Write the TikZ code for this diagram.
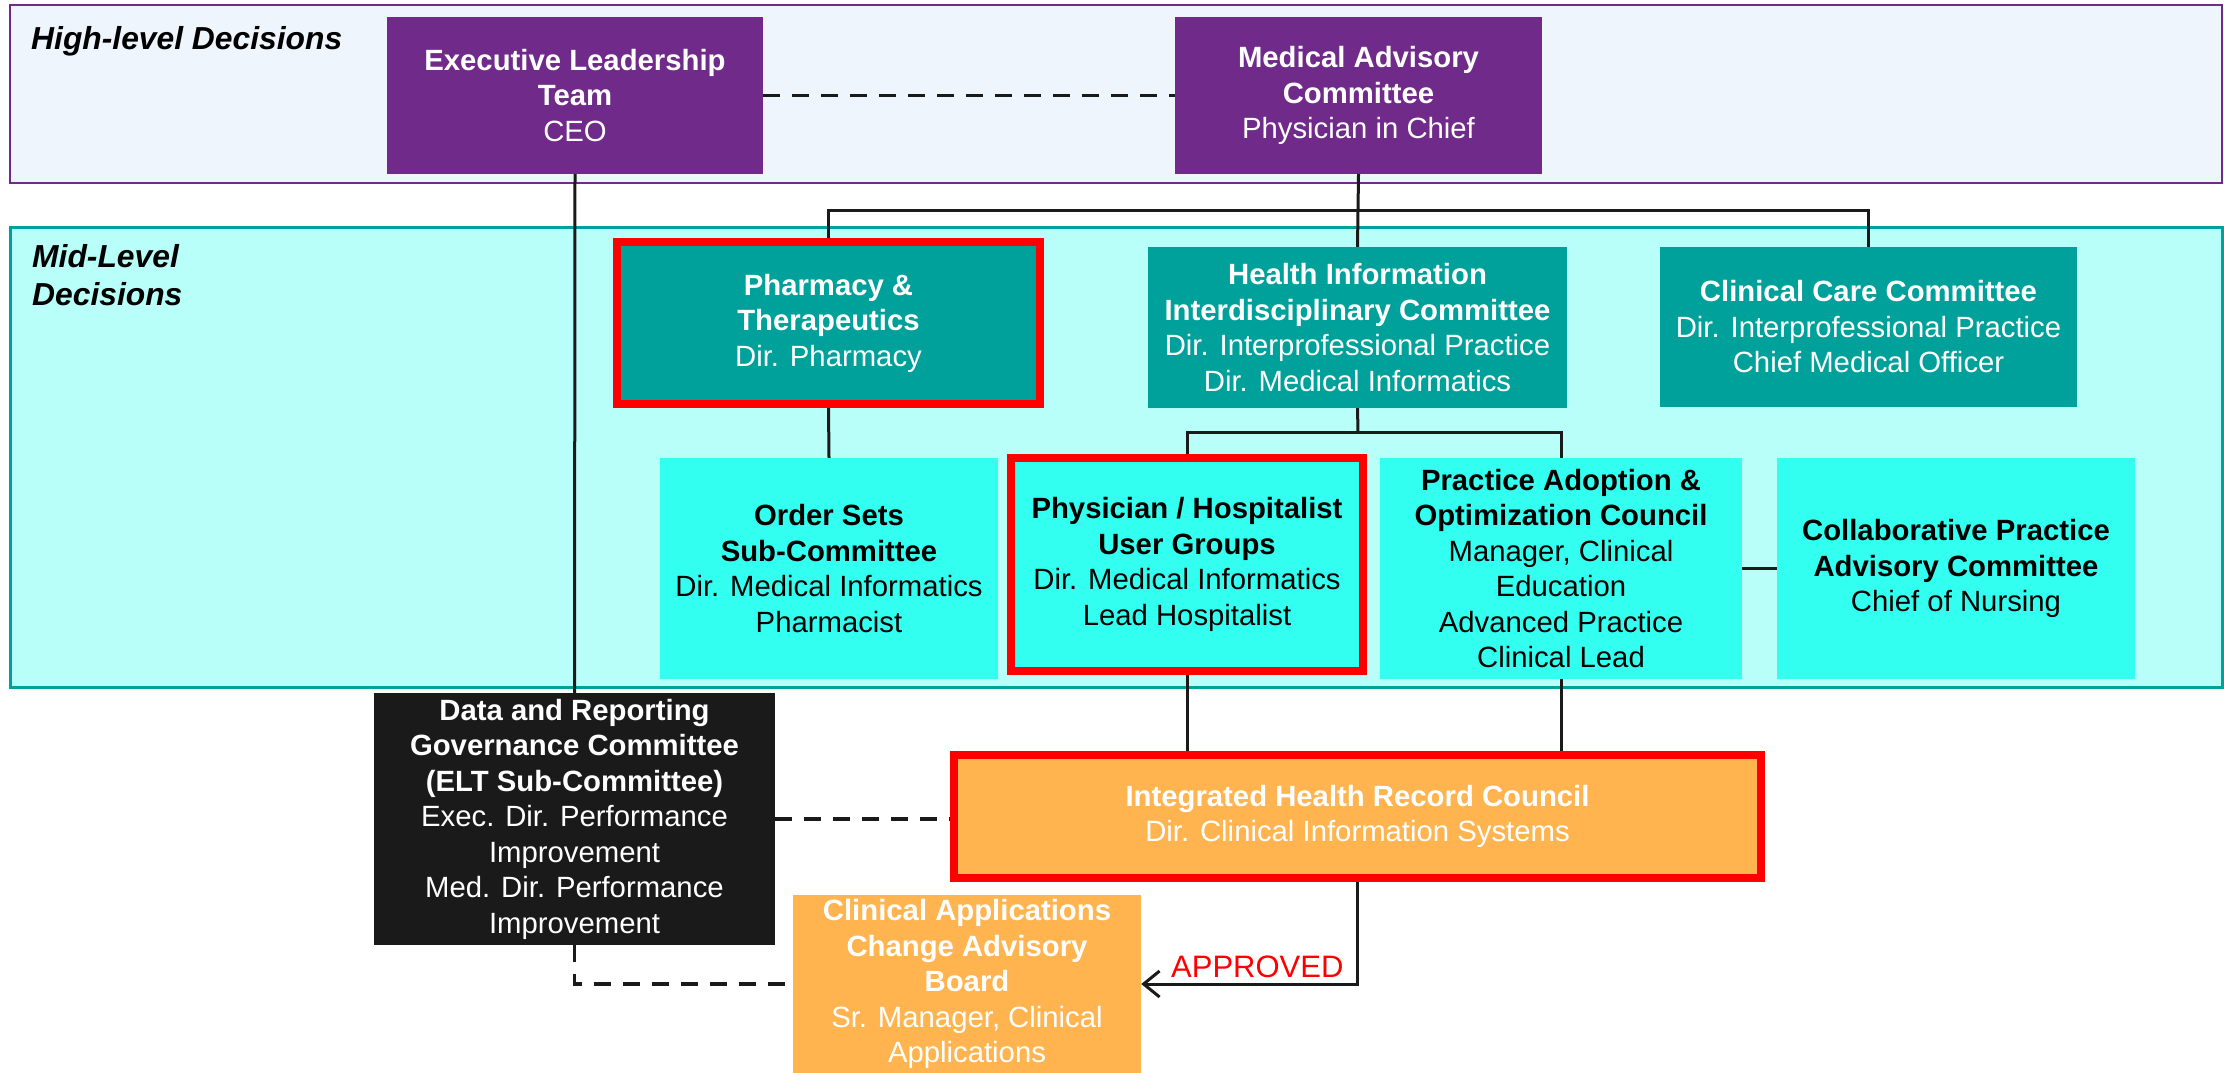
\documentclass[tikz,border=0pt]{standalone}
\usepackage{fontspec}
\setmainfont{Liberation Sans}
\usetikzlibrary{arrows.meta}
\definecolor{hpurple}{RGB}{111,42,138}
\definecolor{hteal}{RGB}{0,161,154}
\definecolor{hcyan}{RGB}{51,255,240}
\definecolor{midfill}{RGB}{184,255,250}
\definecolor{highfill}{RGB}{238,245,252}
\definecolor{horange}{RGB}{255,180,80}
\definecolor{hblack}{RGB}{26,26,26}
\definecolor{hred}{RGB}{255,0,0}
\tikzset{
  box/.style={inner sep=0pt, align=center, font=\fontsize{29.3pt}{35.5pt}\selectfont},
  purplebox/.style={box, fill=hpurple, text=white},
  tealbox/.style={box, fill=hteal, text=white},
  cyanbox/.style={box, fill=hcyan, text=black},
  orangebox/.style={box, fill=horange, text=white},
  blackbox/.style={box, fill=hblack, text=white},
  redframe/.style={draw=hred, line width=8pt},
  conn/.style={draw=hblack, line width=3pt},
  dconn/.style={draw=hblack, line width=3.5pt, dash pattern=on 17pt off 12pt},
  level/.style={inner sep=0pt, align=left, font=\fontsize{31.8pt}{38pt}\selectfont\bfseries\itshape},
}
\begin{document}
\begin{tikzpicture}[x=1pt,y=-1pt]
\useasboundingbox (0,0) rectangle (2224,1073);
% bands
\draw[fill=highfill, draw=hpurple, line width=2.5pt] (10,5) rectangle (2222,183);
\draw[fill=midfill, draw=hteal, line width=3pt] (10,227) rectangle (2222,687);
\node[level, anchor=base west] (hl) at (31,50) {High-level Decisions};
\node[level, anchor=base west] (ml) at (32,305) {Mid-Level\\Decisions};
% nodes
\node[purplebox, minimum width=376pt, minimum height=157pt] (exec) at (575,95.5) {\textbf{Executive Leadership}\\\textbf{Team}\\CEO};
\node[purplebox, minimum width=367pt, minimum height=157pt] (mac) at (1358.5,95.5) {\textbf{Medical Advisory}\\\textbf{Committee}\\Physician in Chief};
\node[tealbox, redframe, minimum width=423pt, minimum height=162pt] (pt) at (828.5,323) {\textbf{Pharmacy \&}\\\textbf{Therapeutics}\\Dir. Pharmacy};
\node[tealbox, minimum width=419pt, minimum height=161pt] (hiic) at (1357.5,327.5) {\textbf{Health Information}\\\textbf{Interdisciplinary Committee}\\Dir. Interprofessional Practice\\Dir. Medical Informatics};
\node[tealbox, minimum width=417pt, minimum height=160pt] (cc) at (1868.5,327) {\textbf{Clinical Care Committee}\\Dir. Interprofessional Practice\\Chief Medical Officer};
\node[cyanbox, minimum width=338pt, minimum height=221pt] (os) at (829,568.5) {\textbf{Order Sets}\\\textbf{Sub-Committee}\\Dir. Medical Informatics\\Pharmacist};
\node[cyanbox, redframe, minimum width=352pt, minimum height=213pt] (phys) at (1187,564.5) {\textbf{Physician / Hospitalist}\\\textbf{User Groups}\\Dir. Medical Informatics\\Lead Hospitalist};
\node[cyanbox, minimum width=362pt, minimum height=221pt] (paoc) at (1561,568.5) {\textbf{Practice Adoption \&}\\\textbf{Optimization Council}\\Manager, Clinical\\Education\\Advanced Practice\\Clinical Lead};
\node[cyanbox, minimum width=358pt, minimum height=221pt] (collab) at (1956,568.5) {\textbf{Collaborative Practice}\\\textbf{Advisory Committee}\\Chief of Nursing};
\node[blackbox, minimum width=401pt, minimum height=252pt] (data) at (574.5,819) {\textbf{Data and Reporting}\\\textbf{Governance Committee}\\\textbf{(ELT Sub-Committee)}\\Exec. Dir. Performance\\Improvement\\Med. Dir. Performance\\Improvement};
\node[orangebox, redframe, minimum width=807pt, minimum height=123pt] (ihrc) at (1357.5,816.5) {\textbf{Integrated Health Record Council}\\Dir. Clinical Information Systems};
\node[orangebox, minimum width=348pt, minimum height=178pt] (cab) at (967,984) {\textbf{Clinical Applications}\\\textbf{Change Advisory}\\\textbf{Board}\\Sr. Manager, Clinical\\Applications};
% junctions
\coordinate (j1) at (1358,210);
\coordinate (j2) at (1358,432);
% connectors
\draw[dconn] (exec) -- (mac);
\draw[conn] (mac.south) -- (hiic.north);
\draw[conn] (pt.north) |- (j1) -| (cc.north);
\draw[conn] (pt.south) -- (os.north);
\draw[conn] (hiic.south) -- (j2);
\draw[conn] (phys.north) |- (j2) -| (paoc.north);
\draw[conn] (paoc) -- (collab);
\draw[conn] (exec.south) -- (data.north);
\draw[conn] (phys.south) -- (phys.south |- ihrc.north);
\draw[conn] (paoc.south) -- (paoc.south |- ihrc.north);
\draw[dconn] (data.east) -- (data.east -| ihrc.west);
\draw[dconn] (data.south) |- (cab.west);
\draw[conn, -{Straight Barb[length=16pt,width=26pt]}] (ihrc.south) |- (cab.east);
\node[anchor=base west, inner sep=0pt, text=hred, font=\fontsize{31pt}{36pt}\selectfont] (appr) at (1171,977) {APPROVED};
\end{tikzpicture}
\end{document}
